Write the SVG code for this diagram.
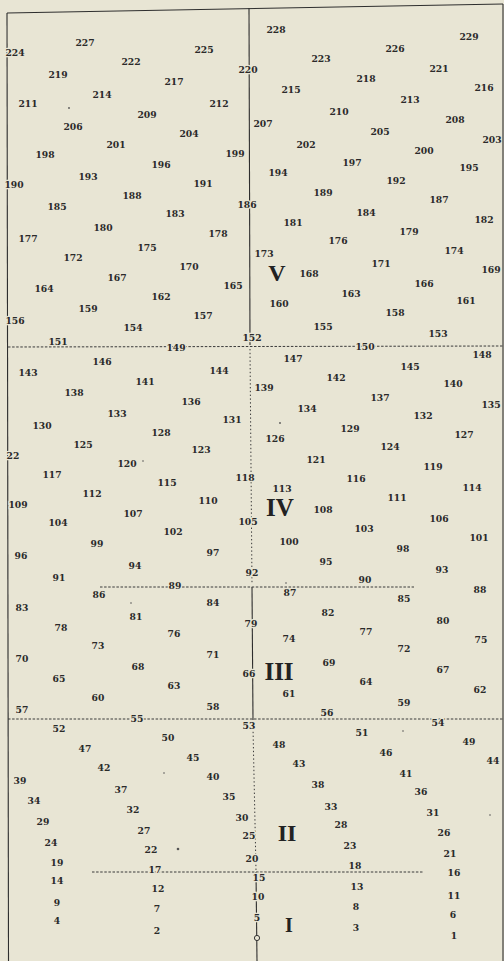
<svg xmlns="http://www.w3.org/2000/svg" width="504" height="961" viewBox="0 0 504 961">
<style>
.bg{fill:#e8e5d4}
.ln{stroke:#2e2e2e;stroke-width:1.1;fill:none}
.dt{stroke:#3a3a3a;stroke-width:1;fill:none;stroke-dasharray:2.5 1.6}
.dv{stroke:#3a3a3a;stroke-width:1;fill:none;stroke-dasharray:1.4 2.4}
text.n{font-family:"DejaVu Serif",serif;font-weight:bold;font-size:9.2px;fill:#2a2a2a;text-anchor:middle}
text.h{paint-order:stroke;stroke:#e8e5d4;stroke-width:2.5px}
text.z{font-family:"Liberation Serif","Times New Roman",serif;font-weight:bold;fill:#222;text-anchor:middle}
.dot{fill:#555}
</style>
<rect class="bg" x="0" y="0" width="504" height="961"/>
<g id="frame">
<path class="ln" d="M7,13 L503,4" stroke-width="1.5"/>
<path class="ln" d="M7,13 L8.5,961"/>
<path class="ln" d="M503,4 L503,961"/>
</g>
<g id="dividers">
<path class="ln" d="M249,8 L250,345"/>
<path class="dv" d="M250,349 L252,584"/>
<path class="ln" d="M252,587 L253,720"/>
<path class="dv" d="M253,728 L256,870"/>
<path class="ln" d="M256,872 L257,961"/>
<circle cx="257" cy="938" r="2.6" fill="#e8e5d4" stroke="#333" stroke-width="1"/>
<path class="dt" d="M8,347 L503,346"/>
<path class="dt" d="M100,587 L414,587"/>
<path class="dt" d="M8,719 L503,719"/>
<path class="dt" d="M92,872 L423,872"/>
</g>
<g id="dots">
<circle class="dot" cx="69" cy="108" r="0.9"/>
<circle class="dot" cx="280" cy="423" r="0.9"/>
<circle class="dot" cx="143" cy="461" r="0.8"/>
<circle class="dot" cx="131" cy="603" r="0.8"/>
<circle class="dot" cx="286" cy="583" r="0.8"/>
<circle class="dot" cx="164" cy="773" r="0.8"/>
<circle class="dot" cx="403" cy="731" r="0.8"/>
<circle class="dot" cx="178" cy="849" r="1.3"/>
<circle class="dot" cx="490" cy="815" r="0.8"/>
</g>
<g id="zones">
<text class="z" x="277" y="281" font-size="24">V</text>
<text class="z" x="280" y="516" font-size="25">IV</text>
<text class="z" x="279" y="680" font-size="25">III</text>
<text class="z" x="287" y="841" font-size="24">II</text>
<text class="z" x="289" y="932" font-size="20">I</text>
</g>
<g id="labels">
<text class="n h" x="15" y="55.5">224</text>
<text class="n" x="85" y="45.5">227</text>
<text class="n" x="131" y="64.5">222</text>
<text class="n" x="204" y="52.5">225</text>
<text class="n h" x="248" y="72.5">220</text>
<text class="n" x="58" y="77.5">219</text>
<text class="n" x="174" y="84.5">217</text>
<text class="n" x="102" y="97.5">214</text>
<text class="n" x="28" y="106.5">211</text>
<text class="n" x="219" y="106.5">212</text>
<text class="n" x="147" y="117.5">209</text>
<text class="n" x="73" y="129.5">206</text>
<text class="n" x="189" y="136.5">204</text>
<text class="n" x="116" y="147.5">201</text>
<text class="n" x="45" y="157.5">198</text>
<text class="n" x="235" y="156.5">199</text>
<text class="n" x="161" y="167.5">196</text>
<text class="n" x="276" y="32.5">228</text>
<text class="n" x="321" y="61.5">223</text>
<text class="n" x="395" y="51.5">226</text>
<text class="n" x="469" y="39.5">229</text>
<text class="n" x="439" y="71.5">221</text>
<text class="n" x="366" y="81.5">218</text>
<text class="n" x="291" y="92.5">215</text>
<text class="n" x="484" y="90.5">216</text>
<text class="n" x="410" y="102.5">213</text>
<text class="n" x="339" y="114.5">210</text>
<text class="n" x="263" y="126.5">207</text>
<text class="n" x="455" y="122.5">208</text>
<text class="n" x="380" y="134.5">205</text>
<text class="n" x="306" y="147.5">202</text>
<text class="n" x="492" y="142.5">203</text>
<text class="n" x="424" y="153.5">200</text>
<text class="n" x="352" y="165.5">197</text>
<text class="n" x="469" y="170.5">195</text>
<text class="n" x="88" y="179.5">193</text>
<text class="n h" x="14" y="187.5">190</text>
<text class="n" x="203" y="186.5">191</text>
<text class="n" x="132" y="198.5">188</text>
<text class="n" x="57" y="209.5">185</text>
<text class="n h" x="247" y="207.5">186</text>
<text class="n" x="175" y="216.5">183</text>
<text class="n" x="103" y="230.5">180</text>
<text class="n" x="28" y="241.5">177</text>
<text class="n" x="218" y="236.5">178</text>
<text class="n" x="147" y="250.5">175</text>
<text class="n" x="73" y="260.5">172</text>
<text class="n" x="189" y="269.5">170</text>
<text class="n" x="117" y="280.5">167</text>
<text class="n" x="44" y="291.5">164</text>
<text class="n" x="233" y="288.5">165</text>
<text class="n" x="161" y="299.5">162</text>
<text class="n" x="88" y="311.5">159</text>
<text class="n h" x="15" y="323.5">156</text>
<text class="n" x="203" y="318.5">157</text>
<text class="n" x="133" y="330.5">154</text>
<text class="n" x="278" y="175.5">194</text>
<text class="n" x="396" y="183.5">192</text>
<text class="n" x="323" y="195.5">189</text>
<text class="n" x="439" y="202.5">187</text>
<text class="n" x="366" y="215.5">184</text>
<text class="n" x="293" y="225.5">181</text>
<text class="n" x="484" y="222.5">182</text>
<text class="n" x="409" y="234.5">179</text>
<text class="n" x="338" y="243.5">176</text>
<text class="n" x="264" y="256.5">173</text>
<text class="n" x="454" y="253.5">174</text>
<text class="n" x="381" y="266.5">171</text>
<text class="n" x="309" y="276.5">168</text>
<text class="n" x="491" y="272.5">169</text>
<text class="n" x="424" y="286.5">166</text>
<text class="n" x="351" y="296.5">163</text>
<text class="n" x="279" y="306.5">160</text>
<text class="n" x="466" y="303.5">161</text>
<text class="n" x="395" y="315.5">158</text>
<text class="n" x="323" y="329.5">155</text>
<text class="n" x="438" y="336.5">153</text>
<text class="n h" x="252" y="340.5">152</text>
<text class="n" x="58" y="344.5">151</text>
<text class="n h" x="176" y="350.5">149</text>
<text class="n" x="102" y="364.5">146</text>
<text class="n" x="28" y="375.5">143</text>
<text class="n" x="219" y="373.5">144</text>
<text class="n" x="145" y="384.5">141</text>
<text class="n" x="74" y="395.5">138</text>
<text class="n" x="191" y="404.5">136</text>
<text class="n" x="117" y="416.5">133</text>
<text class="n" x="42" y="428.5">130</text>
<text class="n" x="232" y="422.5">131</text>
<text class="n" x="161" y="435.5">128</text>
<text class="n" x="83" y="447.5">125</text>
<text class="n h" x="13" y="458.5">22</text>
<text class="n" x="201" y="452.5">123</text>
<text class="n" x="127" y="466.5">120</text>
<text class="n h" x="245" y="480.5">118</text>
<text class="n" x="52" y="477.5">117</text>
<text class="n" x="167" y="485.5">115</text>
<text class="n h" x="365" y="349.5">150</text>
<text class="n" x="482" y="357.5">148</text>
<text class="n" x="293" y="361.5">147</text>
<text class="n" x="410" y="369.5">145</text>
<text class="n" x="336" y="380.5">142</text>
<text class="n" x="264" y="390.5">139</text>
<text class="n" x="453" y="386.5">140</text>
<text class="n" x="380" y="400.5">137</text>
<text class="n" x="307" y="411.5">134</text>
<text class="n" x="491" y="407.5">135</text>
<text class="n" x="423" y="418.5">132</text>
<text class="n" x="350" y="431.5">129</text>
<text class="n" x="275" y="441.5">126</text>
<text class="n" x="464" y="437.5">127</text>
<text class="n" x="390" y="449.5">124</text>
<text class="n" x="316" y="462.5">121</text>
<text class="n" x="433" y="469.5">119</text>
<text class="n" x="356" y="481.5">116</text>
<text class="n" x="92" y="496.5">112</text>
<text class="n h" x="18" y="507.5">109</text>
<text class="n" x="208" y="503.5">110</text>
<text class="n" x="133" y="516.5">107</text>
<text class="n" x="58" y="525.5">104</text>
<text class="n h" x="248" y="524.5">105</text>
<text class="n" x="173" y="534.5">102</text>
<text class="n" x="97" y="546.5">99</text>
<text class="n" x="21" y="558.5">96</text>
<text class="n" x="213" y="555.5">97</text>
<text class="n" x="135" y="568.5">94</text>
<text class="n" x="59" y="580.5">91</text>
<text class="n h" x="252" y="575.5">92</text>
<text class="n h" x="175" y="588.5">89</text>
<text class="n" x="99" y="597.5">86</text>
<text class="n" x="22" y="610.5">83</text>
<text class="n" x="213" y="605.5">84</text>
<text class="n" x="136" y="619.5">81</text>
<text class="n" x="61" y="630.5">78</text>
<text class="n" x="174" y="636.5">76</text>
<text class="n h" x="251" y="626.5">79</text>
<text class="n" x="98" y="648.5">73</text>
<text class="n" x="282" y="491.5">113</text>
<text class="n" x="397" y="500.5">111</text>
<text class="n" x="472" y="490.5">114</text>
<text class="n" x="323" y="512.5">108</text>
<text class="n" x="439" y="521.5">106</text>
<text class="n" x="364" y="531.5">103</text>
<text class="n" x="289" y="544.5">100</text>
<text class="n" x="479" y="540.5">101</text>
<text class="n" x="403" y="551.5">98</text>
<text class="n" x="326" y="564.5">95</text>
<text class="n" x="442" y="572.5">93</text>
<text class="n" x="365" y="582.5">90</text>
<text class="n" x="480" y="592.5">88</text>
<text class="n" x="290" y="595.5">87</text>
<text class="n" x="404" y="601.5">85</text>
<text class="n" x="328" y="615.5">82</text>
<text class="n" x="443" y="623.5">80</text>
<text class="n" x="366" y="634.5">77</text>
<text class="n" x="289" y="641.5">74</text>
<text class="n" x="481" y="642.5">75</text>
<text class="n" x="22" y="661.5">70</text>
<text class="n" x="213" y="657.5">71</text>
<text class="n" x="138" y="669.5">68</text>
<text class="n h" x="249" y="676.5">66</text>
<text class="n" x="59" y="681.5">65</text>
<text class="n" x="174" y="688.5">63</text>
<text class="n" x="98" y="700.5">60</text>
<text class="n" x="22" y="712.5">57</text>
<text class="n" x="213" y="709.5">58</text>
<text class="n h" x="137" y="721.5">55</text>
<text class="n h" x="249" y="728.5">53</text>
<text class="n" x="59" y="731.5">52</text>
<text class="n" x="168" y="740.5">50</text>
<text class="n" x="85" y="751.5">47</text>
<text class="n" x="193" y="760.5">45</text>
<text class="n" x="104" y="770.5">42</text>
<text class="n" x="213" y="779.5">40</text>
<text class="n" x="20" y="783.5">39</text>
<text class="n" x="121" y="792.5">37</text>
<text class="n" x="229" y="799.5">35</text>
<text class="n" x="34" y="803.5">34</text>
<text class="n" x="404" y="651.5">72</text>
<text class="n" x="329" y="665.5">69</text>
<text class="n" x="443" y="672.5">67</text>
<text class="n" x="366" y="684.5">64</text>
<text class="n" x="289" y="696.5">61</text>
<text class="n" x="480" y="692.5">62</text>
<text class="n" x="404" y="705.5">59</text>
<text class="n" x="327" y="715.5">56</text>
<text class="n h" x="438" y="725.5">54</text>
<text class="n" x="362" y="735.5">51</text>
<text class="n" x="279" y="747.5">48</text>
<text class="n" x="469" y="744.5">49</text>
<text class="n" x="386" y="755.5">46</text>
<text class="n" x="299" y="766.5">43</text>
<text class="n" x="493" y="763.5">44</text>
<text class="n" x="406" y="776.5">41</text>
<text class="n" x="318" y="787.5">38</text>
<text class="n" x="421" y="794.5">36</text>
<text class="n" x="331" y="809.5">33</text>
<text class="n" x="133" y="812.5">32</text>
<text class="n" x="43" y="824.5">29</text>
<text class="n" x="242" y="820.5">30</text>
<text class="n" x="144" y="833.5">27</text>
<text class="n" x="51" y="845.5">24</text>
<text class="n h" x="249" y="838.5">25</text>
<text class="n" x="151" y="852.5">22</text>
<text class="n h" x="252" y="861.5">20</text>
<text class="n" x="57" y="865.5">19</text>
<text class="n h" x="155" y="872.5">17</text>
<text class="n" x="57" y="883.5">14</text>
<text class="n h" x="259" y="880.5">15</text>
<text class="n" x="158" y="891.5">12</text>
<text class="n h" x="258" y="899.5">10</text>
<text class="n" x="57" y="905.5">9</text>
<text class="n" x="157" y="911.5">7</text>
<text class="n h" x="257" y="920.5">5</text>
<text class="n" x="57" y="923.5">4</text>
<text class="n" x="157" y="933.5">2</text>
<text class="n" x="433" y="815.5">31</text>
<text class="n" x="341" y="827.5">28</text>
<text class="n" x="444" y="835.5">26</text>
<text class="n" x="350" y="848.5">23</text>
<text class="n" x="450" y="856.5">21</text>
<text class="n" x="355" y="868.5">18</text>
<text class="n" x="454" y="875.5">16</text>
<text class="n" x="357" y="889.5">13</text>
<text class="n" x="454" y="898.5">11</text>
<text class="n" x="356" y="909.5">8</text>
<text class="n" x="453" y="917.5">6</text>
<text class="n" x="356" y="930.5">3</text>
<text class="n" x="454" y="938.5">1</text>
</g>
</svg>
